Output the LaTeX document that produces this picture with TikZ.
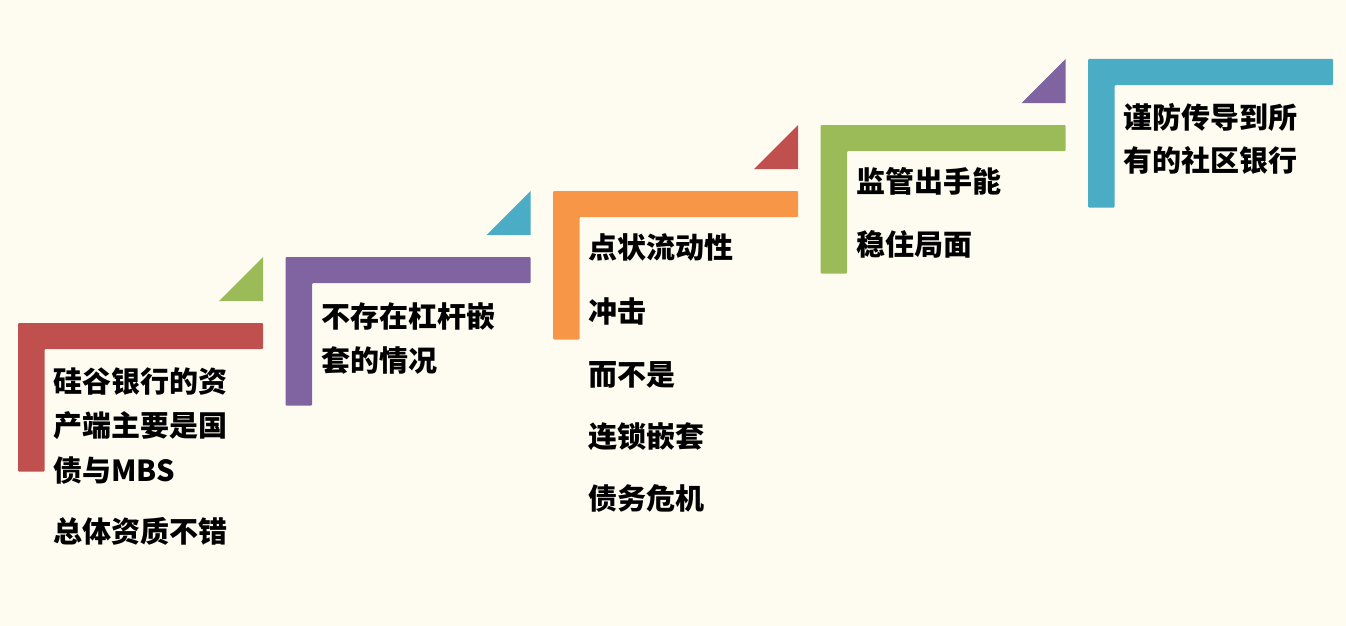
\documentclass[tikz,border=0pt]{standalone}
\usepackage{fontspec}
\newfontfamily\cjk{Noto Sans CJK SC}
\definecolor{bgcream}{HTML}{FEFCF0}
\definecolor{stepred}{HTML}{C0504D}
\definecolor{stepgreen}{HTML}{9BBB59}
\definecolor{steppurple}{HTML}{8064A2}
\definecolor{stepblue}{HTML}{4BACC6}
\definecolor{steporange}{HTML}{F79646}
\tikzset{
  stepbar/.style={fill=#1, draw=none, rounded corners=1pt},
  steptri/.style={fill=#1, draw=none},
  steptxt/.style={font=\cjk\bfseries\fontsize{29}{35}\selectfont, anchor=base west, inner sep=0pt, text=black}
}
\begin{document}
\begin{tikzpicture}[x=1pt, y=-1pt]
			\fill[bgcream] (0,0) rectangle (1346,626);
			\useasboundingbox (0,0) rectangle (1346,626);
			% the five steps
			\foreach \i/\c in {0/stepred,1/steppurple,2/steporange,3/stepgreen,4/stepblue}{
				\pgfmathsetmacro\x{18+267.5*\i}
				\pgfmathsetmacro\y{323-66*\i}
				\fill[stepbar=\c] (\x,\y) -- ++(245,0) -- ++(0,26) -- ++(-218.5,0) -- ++(0,122.5) -- ++(-26.5,0) -- cycle;
			}
			% small triangles above each bar
			\foreach \i/\c in {0/stepgreen,1/stepblue,2/stepred,3/steppurple}{
				\pgfmathsetmacro\x{18+267.5*\i}
				\pgfmathsetmacro\y{323-66*\i}
				\fill[steptri=\c] (\x+201,\y-22) -- (\x+245,\y-22) -- (\x+245,\y-66) -- cycle;
			}
			% texts
			\foreach \t/\yy [count=\k] in {硅谷银行的资/392.7, 产端主要是国/436, 债与MBS/481.5, 总体资质不错/542.7}
			\node[steptxt] (a-\k) at (53,\yy) {\t};
			\foreach \t/\yy [count=\k] in {不存在杠杆嵌/327.7, 套的情况/371}
			\node[steptxt] (b-\k) at (321,\yy) {\t};
			\foreach \t/\yy [count=\k] in {点状流动性/258.7, 冲击/322, 而不是/385, 连锁嵌套/447, 债务危机/509}
			\node[steptxt] (c-\k) at (588,\yy) {\t};
			\foreach \t/\yy [count=\k] in {监管出手能/192.7, 稳住局面/255.3}
			\node[steptxt] (d-\k) at (856,\yy) {\t};
			\foreach \t/\yy [count=\k] in {谨防传导到所/128.3, 有的社区银行/171.7}
			\node[steptxt] (e-\k) at (1123,\yy) {\t};
		\end{tikzpicture}
\end{document}
